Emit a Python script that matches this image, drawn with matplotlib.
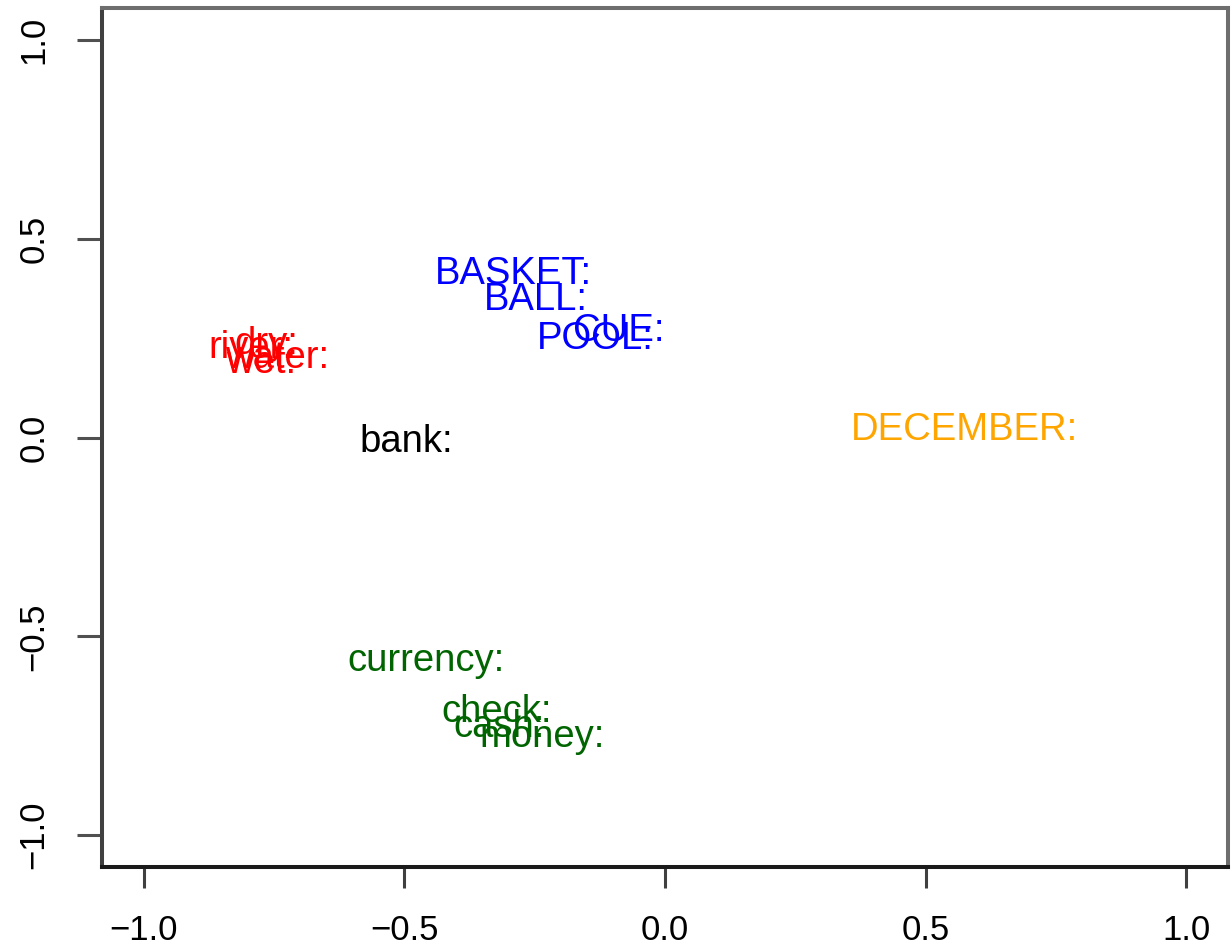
import matplotlib
matplotlib.use("Agg")
import matplotlib.pyplot as plt

# Word labels with their 2-D coordinates
words = ["BASKET:", "BALL:", "CUE:", "POOL:",
         "river:", "dry:", "water:", "wet:",
         "bank:", "DECEMBER:",
         "currency:", "check:", "cash:", "money:"]
x_vals = [-0.290, -0.248, -0.089, -0.134,
          -0.795, -0.764, -0.744, -0.774,
          -0.497, 0.575,
          -0.459, -0.323, -0.319, -0.235]
y_vals = [0.420, 0.357, 0.277, 0.257,
          0.236, 0.244, 0.209, 0.198,
          0.000, 0.030,
          -0.553, -0.679, -0.717, -0.742]
colors = ["blue", "blue", "blue", "blue",
          "red", "red", "red", "red",
          "black", "orange",
          "darkgreen", "darkgreen", "darkgreen", "darkgreen"]

tick_vals = [-1.0, -0.5, 0.0, 0.5, 1.0]
tick_labels = ["\u22121.0", "\u22120.5", "0.0", "0.5", "1.0"]

plt.rcParams['font.family'] = ['Liberation Sans', 'DejaVu Sans']

fig = plt.figure(figsize=(12.32, 9.44), dpi=100)
ax = fig.add_axes([102/1232, 1 - 867/944, (1228 - 102)/1232, (867 - 8)/944])

for w, x, y, c in zip(words, x_vals, y_vals, colors):
    ax.text(x, y, w, color=c, fontsize=27.5, ha='center', va='center_baseline')

ax.set_xlim(-1.08, 1.08)
ax.set_ylim(-1.08, 1.08)
ax.set_xticks(tick_vals)
ax.set_xticklabels(tick_labels)
ax.set_yticks(tick_vals)
ax.set_yticklabels(tick_labels)

ax.tick_params(axis='x', length=15, width=2.2, color='#404040', pad=19,
               labelsize=25, labelcolor='black')
ax.tick_params(axis='y', length=18, width=2.2, color='#505050', pad=19,
               labelsize=25, labelcolor='black', labelrotation=90)
for lab in ax.get_yticklabels():
    lab.set_va('center')

spine_cols = {'bottom': '#1a1a1a', 'left': '#404040', 'top': '#6e6e6e', 'right': '#6e6e6e'}
for k, sp in ax.spines.items():
    sp.set_linewidth(2.9)
    sp.set_color(spine_cols[k])

fig.savefig("out.png", dpi=100)
